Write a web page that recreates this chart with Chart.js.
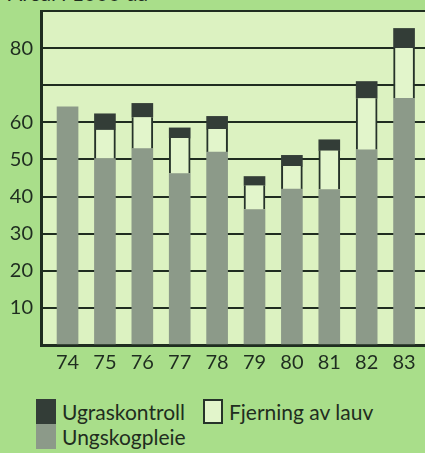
<!DOCTYPE html>
<html>
<head>
<meta charset="utf-8">
<script src="https://cdn.jsdelivr.net/npm/chart.js@4"></script>
<style>
  html, body { margin: 0; padding: 0; }
  body {
    width: 425px; height: 453px; overflow: hidden; position: relative;
    background: #a9de8a; font-family: Lato, sans-serif; color: #1f2d20;
  }
  #title { position: absolute; left: 8px; top: -18px; font-size: 21px; line-height: 21px; white-space: nowrap; }
  #chart { position: absolute; left: 0; top: 0; }
  #legend {
    position: absolute; left: 36px; top: 399px; width: 360px;
    display: flex; flex-wrap: wrap; font-size: 21px; line-height: 25px;
  }
  .item { display: flex; align-items: center; height: 25px; margin-right: 18px; white-space: nowrap; }
  .box { width: 20px; height: 25px; box-sizing: border-box; margin-right: 6px; }
</style>
</head>
<body>
<div id="title">Areal i 1000 da</div>
<canvas id="chart" width="425" height="385"></canvas>
<div id="legend"></div>
<script>
const years = [74, 75, 76, 77, 78, 79, 80, 81, 82, 83];
const ungskogpleie = [64.2, 50.2, 52.9, 46.2, 52.0, 36.5, 42.0, 41.9, 52.6, 66.5];
const fjerningAvLauv = [null, 7.8, 8.5, 9.6, 6.2, 6.5, 6.2, 10.5, 13.9, 13.5];
const ugraskontroll = [null, 4.3, 3.7, 2.7, 3.4, 2.4, 2.9, 2.9, 4.5, 5.3];
const yTickLabels = [10, 20, 30, 40, 50, 60, 80];

const ink = '#1f2d20';

// light panel behind the bars
const plotBackground = {
  id: 'plotBackground',
  beforeDraw(chart) {
    const { ctx, chartArea: a } = chart;
    ctx.save();
    ctx.fillStyle = '#dcf2c1';
    ctx.fillRect(a.left, a.top, a.right - a.left, a.bottom - a.top);
    ctx.restore();
  }
};

const chart = new Chart(document.getElementById('chart').getContext('2d'), {
  type: 'bar',
  data: {
    labels: years,
    datasets: [
      {
        label: 'Ungskogpleie',
        data: ungskogpleie,
        backgroundColor: '#8c9a89',
        borderWidth: 0
      },
      {
        label: 'Fjerning av lauv',
        data: fjerningAvLauv,
        backgroundColor: '#e2f5cb',
        borderColor: '#26332a',
        borderWidth: { left: 2, right: 2, top: 0, bottom: 0 },
        borderSkipped: false
      },
      {
        label: 'Ugraskontroll',
        data: ugraskontroll,
        backgroundColor: '#333d37',
        borderWidth: 0
      }
    ]
  },
  options: {
    responsive: false,
    animation: false,
    barThickness: 21,
    layout: { autoPadding: false, padding: { top: 11, left: 0, right: 0, bottom: 0 } },
    plugins: {
      legend: { display: false },
      tooltip: { enabled: false }
    },
    scales: {
      x: {
        type: 'linear',
        stacked: true,
        offset: false,
        min: 73.29,
        max: 83.56,
        afterBuildTicks: (scale) => { scale.ticks = years.map(v => ({ value: v })); },
        afterFit: (scale) => {
          scale.height = 40;
          scale.paddingLeft = 0;
          scale.paddingRight = 0;
        },
        grid: { display: false, drawTicks: false },
        border: { display: true, color: ink, width: 3 },
        ticks: {
          padding: 6,
          color: ink,
          font: { family: 'Lato', size: 20 },
          maxRotation: 0,
          callback: (v) => String(v)
        }
      },
      y: {
        stacked: true,
        min: 0,
        max: 90,
        afterFit: (scale) => {
          scale.width = 41;
          scale.paddingTop = 0;
          scale.paddingBottom = 0;
        },
        grid: { color: ink, lineWidth: 2, drawTicks: false },
        border: { display: true, color: ink, width: 3 },
        ticks: {
          stepSize: 10,
          padding: 8,
          color: ink,
          font: { family: 'Lato', size: 20 },
          callback: (v) => yTickLabels.includes(v) ? String(v) : ''
        }
      }
    }
  },
  plugins: [plotBackground]
});

// legend: top of the stack first
const legend = document.getElementById('legend');
chart.data.datasets.slice().reverse().forEach(ds => {
  const item = document.createElement('div');
  item.className = 'item';
  const box = document.createElement('span');
  box.className = 'box';
  box.style.background = ds.backgroundColor;
  if (ds.borderColor) box.style.border = '2px solid ' + ds.borderColor;
  item.appendChild(box);
  item.appendChild(document.createTextNode(ds.label));
  legend.appendChild(item);
});
</script>
</body>
</html>
